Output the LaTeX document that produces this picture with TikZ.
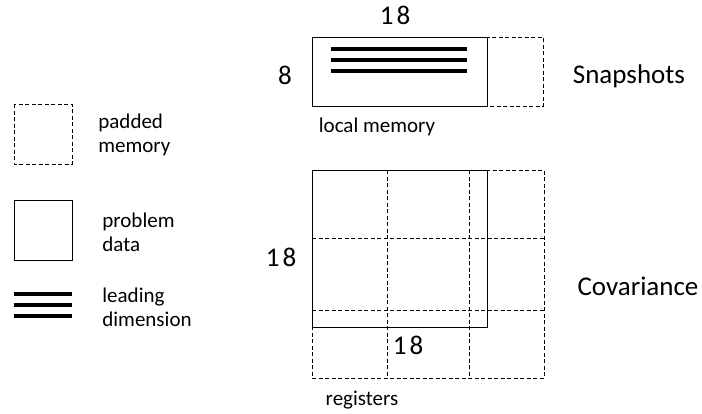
\documentclass[tikz,border=0pt]{standalone}
\usepackage{fontspec}
\setmainfont{Carlito}
\newcommand{\eighteen}{1\kern3pt 8}
\begin{document}
\begin{tikzpicture}[x=1pt, y=-1pt, line width=0.8pt,
    pad/.style={dash pattern=on 4pt off 2.5pt},
    ldim/.style={line width=3.2pt},
    small/.style={font=\fontsize{21}{24}\selectfont, align=left, inner sep=0pt},
    big/.style={font=\fontsize{27}{30}\selectfont, inner sep=0pt}]
        \useasboundingbox (0,0) rectangle (702,413);
        % legend
        \draw[pad] (14,104) rectangle (72,164);
        \node[small, anchor=west] (padtxt) at (98,135) {padded\\memory};
        \draw (14,200) rectangle (72,260);
        \node[small, anchor=west] (datatxt) at (102,232) {problem\\data};
        \foreach \y in {294,305,316} \draw[ldim] (14,\y)--(72,\y);
        \node[small, anchor=west] (ldtxt) at (102,307) {leading\\dimension};
        % snapshots
        \draw[pad] (312,37) rectangle (543,106);
        \draw (312,37) rectangle (487,106);
        \foreach \y in {49,60,71} \draw[ldim] (331,\y)--(467,\y);
        \node[big] (snapw) at (395,15) {\eighteen};
        \node[big] (snaph) at (285,75) {8};
        \node[big] (snap) at (629,76) {Snapshots};
        \node[small] (lmem) at (377,127) {local memory};
        % covariance
        \draw[pad] (312,170) rectangle (544,378);
        \foreach \x in {387,469} \draw[pad] (\x,170)--(\x,378);
        \foreach \y in {238,310} \draw[pad] (312,\y)--(544,\y);
        \draw (312,170) rectangle (487,327);
        \node[big] (covh) at (281,257) {\eighteen};
        \node[big] (covw) at (408,345) {\eighteen};
        \node[small] (regs) at (362,400) {registers};
        \node[big] (cov) at (638,286) {Covariance};
\end{tikzpicture}
\end{document}
